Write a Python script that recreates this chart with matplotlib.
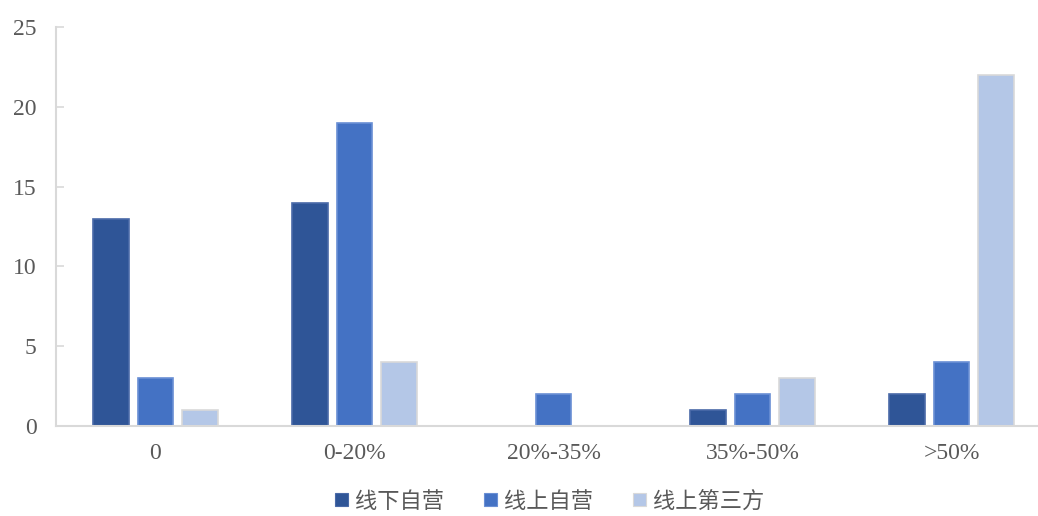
import matplotlib
matplotlib.use("Agg")
import matplotlib.pyplot as plt
import numpy as np
from matplotlib.patches import Patch

categories = ["0", "0-20%", "20%-35%", "35%-50%", ">50%"]
series_names = ["线下自营", "线上自营", "线上第三方"]
offline_self = [13, 14, 0, 1, 2]
online_self = [3, 19, 2, 2, 4]
online_third = [1, 4, 0, 3, 22]

colors = ["#2f5597", "#4472c4", "#b4c7e7"]
edges = ["#4a6aa8", "#6a8fd4", "#d9d9d9"]

fig = plt.figure(figsize=(10.38, 5.16), dpi=100)
W, H = 1038, 516
x0, x1 = 56, 1038
y0, y1 = 426, 27
ax = fig.add_axes([x0 / W, 1 - y0 / H, (x1 - x0) / W, (y0 - y1) / H])

x = np.arange(len(categories))
pitch = 0.224
width = 0.18
for i, (vals, c, e, n) in enumerate(zip([offline_self, online_self, online_third], colors, edges, series_names)):
    ax.bar(x + (i - 1) * pitch, vals, width=width, color=c, edgecolor=e, linewidth=1.2, label=n, zorder=2)

ax.set_ylim(0, 25)
ax.set_yticks([0, 5, 10, 15, 20, 25])
ax.set_xlim(-0.5, 4.5 - (1051 - 1038) / 199)
ax.set_xticks(x)
ax.set_xticklabels(categories)

for s in ["top", "right"]:
    ax.spines[s].set_visible(False)
ax.spines["left"].set_color("#d9d9d9")
ax.spines["left"].set_linewidth(1.5)
ax.spines["bottom"].set_color("#d9d9d9")
ax.spines["bottom"].set_linewidth(1.5)

ax.tick_params(axis="y", direction="in", length=6, color="#d9d9d9", width=1.2,
               labelsize=17, labelcolor="#595959", pad=14)
ax.tick_params(axis="x", length=0, labelsize=17, labelcolor="#595959", pad=12)
for lab in ax.get_xticklabels() + ax.get_yticklabels():
    lab.set_fontfamily(["Liberation Serif", "DejaVu Serif"])

handles = [Patch(facecolor=c, edgecolor=e, linewidth=0.8) for c, e in zip(colors, edges)]
leg = fig.legend(handles, series_names, loc="center", bbox_to_anchor=(550 / W, 1 - 501 / H),
                 ncol=3, frameon=False, handlelength=0.55, handleheight=0.55, handletextpad=0.35,
                 columnspacing=1.8, prop={"family": ["Noto Sans CJK SC", "DejaVu Sans"], "size": 16,
                                          "weight": "light"})
for t in leg.get_texts():
    t.set_color("#595959")

fig.savefig("out.png", dpi=100)
